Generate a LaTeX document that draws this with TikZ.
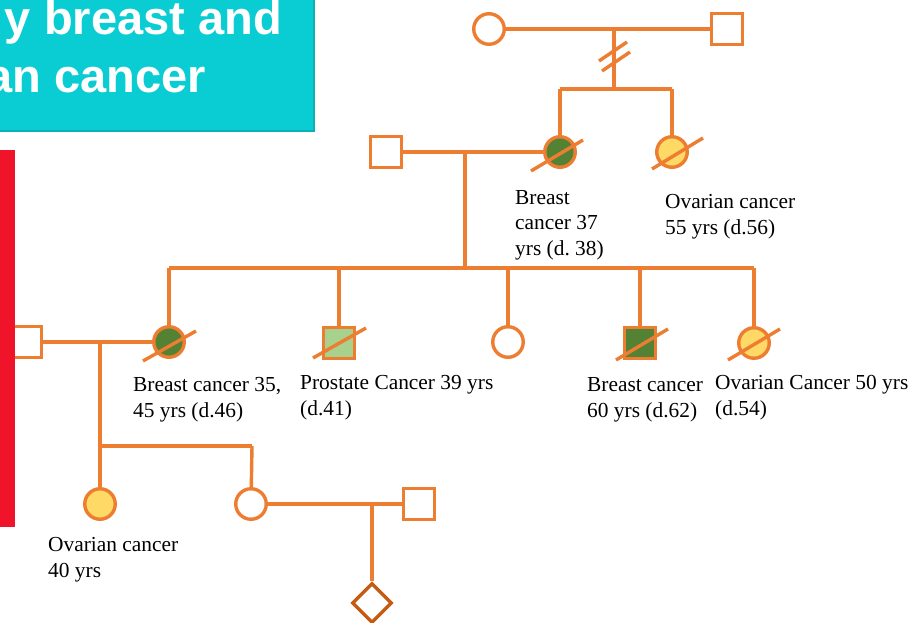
\documentclass[tikz,border=0pt]{standalone}
\usepackage{fontspec}
\setmainfont{Liberation Serif}
\newfontfamily\titlefont{Liberation Sans}
\usetikzlibrary{shapes.geometric}
\definecolor{pedo}{HTML}{ED7D31}
\definecolor{pedd}{HTML}{C55A11}
\definecolor{dgreen}{HTML}{548235}
\definecolor{lgreen}{HTML}{A9D18E}
\definecolor{yel}{HTML}{FFD966}
\definecolor{boxcyan}{HTML}{0ACDD4}
\definecolor{boxedge}{HTML}{0AB2B8}
\definecolor{redbar}{HTML}{F0142A}
\frenchspacing
\begin{document}
\begin{tikzpicture}[x=1pt,y=-1pt,
  line/.style={draw=pedo, line width=3.4pt},
  fem/.style={circle, draw=pedo, line width=3.4pt, minimum size=30.5pt, inner sep=0pt, fill=white},
  mal/.style={rectangle, draw=pedo, line width=3.4pt, minimum size=30.5pt, inner sep=0pt, fill=white},
  lbl/.style={font=\fontsize{21.4}{25.5}\selectfont, align=left, anchor=base west, inner sep=0pt},
  title/.style={font=\titlefont\bfseries\fontsize{47}{56}\selectfont, text=white, anchor=base east, inner sep=0pt}]
\useasboundingbox (0,0) rectangle (914,622);
\clip (0,0) rectangle (914,622);
% title box
\draw[fill=boxcyan, draw=boxedge, line width=1.2pt] (-5,-5) rectangle (314,131);
\node[title] (t1) at (282,34) {y breast and};
\node[title] (t2) at (206,92) {an cancer};
% generation I
\node[fem] (gm) at (489,29) {};
\node[mal] (gf) at (727,29) {};
\coordinate (m0) at (614,29);
\coordinate (s0) at (614,89);
\coordinate (s0L) at (560,89);
\coordinate (s0R) at (672,89);
\draw[line] (gm) -- (gf);
\draw[line] (m0) -- (s0);
\draw[line] (s0L) -- (s0R);
\coordinate (d1a) at (599,61); \coordinate (d1b) at (627,42);
\coordinate (d2a) at (602,71); \coordinate (d2b) at (630,52);
\draw[line] (d1a) -- (d1b);
\draw[line] (d2a) -- (d2b);
% generation II
\node[mal] (h2) at (386,152) {};
\node[fem, fill=dgreen] (m1) at (560,152) {};
\node[fem, fill=yel] (a1) at (672,152) {};
\draw[line] (s0L) -- (m1);
\draw[line] (s0R) -- (a1);
\draw[line] (h2) -- (m1);
\draw[line] (m1.center) ++(-29,19) -- ++(52,-31);
\draw[line] (a1.center) ++(-20,17) -- ++(51,-31);
\coordinate (m2) at (465,152);
\coordinate (s2) at (465,268);
\coordinate (s2L) at (169,268);
\coordinate (s2R) at (754,268);
\draw[line] (m2) -- (s2);
\draw[line] (s2L) -- (s2R);
% generation III
\node[mal] (L) at (26,342) {};
\node[fem, fill=dgreen] (c1) at (169,342) {};
\node[mal, fill=lgreen] (c2) at (339,343) {};
\node[fem] (c3) at (508,342) {};
\node[mal, fill=dgreen] (c4) at (640,343) {};
\node[fem, fill=yel] (c5) at (754,343) {};
\coordinate (s2a) at (169,268);
\coordinate (s2b) at (339,268);
\coordinate (s2c) at (508,268);
\coordinate (s2d) at (640,268);
\coordinate (s2e) at (754,268);
\draw[line] (s2a) -- (c1);
\draw[line] (s2b) -- (c2);
\draw[line] (s2c) -- (c3);
\draw[line] (s2d) -- (c4);
\draw[line] (s2e) -- (c5);
\draw[line] (L) -- (c1);
\draw[line] (c1.center) ++(-26,19) -- ++(53,-30);
\draw[line] (c2.center) ++(-26,15) -- ++(53,-30);
\draw[line] (c4.center) ++(-24,17) -- ++(52,-31);
\draw[line] (c5.center) ++(-26,17) -- ++(52,-31);
% generation IV
\coordinate (m3) at (100,342);
\coordinate (s3L) at (100,446);
\coordinate (s3R) at (252,446);
\node[fem, fill=yel] (e1) at (100,504) {};
\node[fem] (e2) at (251,504) {};
\node[mal] (e3) at (419,504) {};
\draw[line] (m3) -- (s3L);
\draw[line] (s3L) -- (s3R);
\draw[line] (s3L) -- (e1);
\draw[line] (s3R) -- (e2);
\draw[line] (e2) -- (e3);
\node[diamond, aspect=1, draw=pedd, line width=3.4pt, minimum size=40pt, inner sep=0pt, fill=white] (f1) at (372,603) {};
\coordinate (m4) at (372,504);
\draw[line] (m4) -- (f1);
% red bar
\fill[redbar] (-2,150) rectangle (15,527);
% labels (anchor = baseline of last line)
\node[lbl] (l1) at (515,255) {Breast\\cancer 37\\yrs (d. 38)};
\node[lbl] (l2) at (665,234) {Ovarian cancer\\55 yrs (d.56)};
\node[lbl] (l3) at (133,417) {Breast cancer 35,\\45 yrs (d.46)};
\node[lbl] (l4) at (300,415) {Prostate Cancer 39 yrs\\(d.41)};
\node[lbl] (l5) at (587,417) {Breast cancer\\60 yrs (d.62)};
\node[lbl] (l6) at (715,415) {Ovarian Cancer 50 yrs\\(d.54)};
\node[lbl] (l7) at (48,577) {Ovarian cancer\\40 yrs};
\end{tikzpicture}
\end{document}
